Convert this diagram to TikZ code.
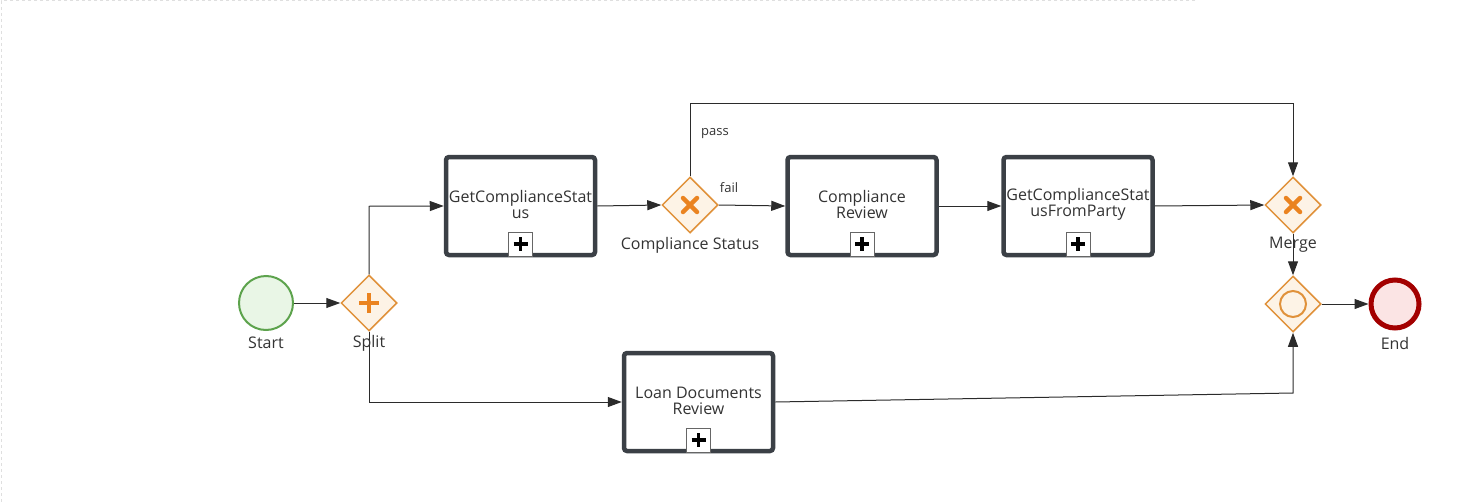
\documentclass[tikz,border=0pt]{standalone}
\usepackage{fontspec}
\setmainfont{Open Sans}
\usetikzlibrary{shapes.geometric,arrows.meta,calc}
\definecolor{taskc}{HTML}{3B4046}
\definecolor{gwc}{HTML}{E0913A}
\definecolor{gwfill}{HTML}{FDF3E6}
\definecolor{gwmark}{HTML}{EA8320}
\definecolor{startc}{HTML}{5DA34D}
\definecolor{startfill}{HTML}{E9F6E6}
\definecolor{endc}{HTML}{A30000}
\definecolor{endfill}{HTML}{FBE4E4}
\definecolor{linec}{HTML}{2B2B2B}
\definecolor{txtc}{HTML}{333333}
\tikzset{
  taskbox/.style={draw=taskc, line width=4.5pt, rounded corners=3pt, fill=white,
    minimum width=149pt, minimum height=98pt, inner sep=0pt},
  tasktext/.style={font=\fontsize{16}{16}\selectfont, text=txtc, align=center, inner sep=0pt},
  gateway/.style={diamond, draw=gwc, line width=1.5pt, fill=gwfill, aspect=1,
    minimum width=56pt, minimum height=56pt, inner sep=0pt},
  lbl/.style={font=\fontsize{16}{18}\selectfont, text=txtc, inner sep=0pt},
  smalllbl/.style={font=\fontsize{13}{14}\selectfont, text=txtc, inner sep=0pt},
  flow/.style={draw=linec, line width=1pt, -{Triangle[length=14pt,width=10pt]}},
  markerbox/.style={draw=gray!80!black, line width=1pt, fill=white, minimum size=24pt, inner sep=0pt},
  markline/.style={line width=3.5pt, black},
  gwplus/.style={line width=4.5pt, gwmark},
  gwx/.style={line width=4.5pt, gwmark, line cap=round},
}
\begin{document}
\begin{tikzpicture}[x=1pt,y=-1pt]
\useasboundingbox (0,0) rectangle (1474,503);
\draw[gray!25, dashed, line width=1pt] (1195,1) -- (1,1) -- (1,503);

% start / end
\node[circle, draw=startc, line width=2pt, fill=startfill, minimum size=54pt, inner sep=0pt] (start) at (266,303) {};
\node[lbl] (startl) at (266,343) {Start};
\node[circle, draw=endc, line width=5pt, fill=endfill, minimum size=48pt, inner sep=0pt] (end) at (1395,304) {};
\node[lbl] (endl) at (1395,343) {End};

% gateways
\node[gateway] (split) at (369,303) {};
\draw[gwplus] ($(split.center)+(-10,0)$) -- ($(split.center)+(10,0)$);
\draw[gwplus] ($(split.center)+(0,-10)$) -- ($(split.center)+(0,10)$);
\node[gateway] (cs) at (690,205) {};
\draw[gwx] ($(cs.center)+(-7,-7)$) -- ($(cs.center)+(7,7)$);
\draw[gwx] ($(cs.center)+(-7,7)$) -- ($(cs.center)+(7,-7)$);
\node[lbl] (csl) at (690,245) {Compliance Status};
\node[gateway] (merge) at (1293,205) {};
\draw[gwx] ($(merge.center)+(-7,-7)$) -- ($(merge.center)+(7,7)$);
\draw[gwx] ($(merge.center)+(-7,7)$) -- ($(merge.center)+(7,-7)$);
\node[gateway] (incl) at (1293,304) {};
\node[circle, draw=gwc, line width=2pt, minimum size=26pt, inner sep=0pt] (inclc) at (incl.center) {};

% tasks
\node[taskbox] (gcs) at (520.5,206) {};
\node[tasktext] (gcst) at (520.5,204) {GetComplianceStat\\us};
\node[markerbox] (gcsm) at (520.5,244) {};
\node[taskbox] (cr) at (862,206) {};
\node[tasktext] (crt) at (862,204) {Compliance\\Review};
\node[markerbox] (crm) at (862,244) {};
\node[taskbox] (gfp) at (1078,206) {};
\node[tasktext] (gfpt) at (1078,204) {GetComplianceStat\\usFromParty};
\node[markerbox] (gfpm) at (1078,244) {};
\node[taskbox] (loan) at (698.5,402) {};
\node[tasktext] (loant) at (698.5,401) {Loan Documents\\Review};
\node[markerbox] (loanm) at (698.5,440) {};

% markers
\foreach \m in {gcsm,crm,gfpm,loanm}{
  \draw[markline] ($(\m.center)+(-7,0)$) -- ($(\m.center)+(7,0)$);
  \draw[markline] ($(\m.center)+(0,-7)$) -- ($(\m.center)+(0,7)$);
}

% connectors
\coordinate (loanbend) at (1293,393);
\draw[flow] (start) -- (split);
\draw[flow] (split.north) -- ++(0,-68) -- (gcs.west);
\draw[flow] (split.south) |- (loan.west);
\draw[flow] (gcs.east) -- (cs.west);
\draw[flow] (cs.east) -- (cr.west);
\node[smalllbl] (faill) at (729,188) {fail};
\draw[flow] (cs.north) -- ++(0,-73) -| (merge.north);
\node[smalllbl] (passl) at (715,134) {pass};
\draw[flow] (cr.east) -- (gfp.west);
\draw[flow] (gfp.east) -- (merge.west);
\draw[flow] (merge.south) -- (incl.north);
\draw[flow] (incl.east) -- (end.west);
\draw[flow] (loan.east) -- (loanbend) -- (incl.south);

% labels drawn over connectors
\node[lbl] (splitl) at (369,343) {Split};
\node[lbl] (mergel) at (1293,245) {Merge};
\end{tikzpicture}
\end{document}
